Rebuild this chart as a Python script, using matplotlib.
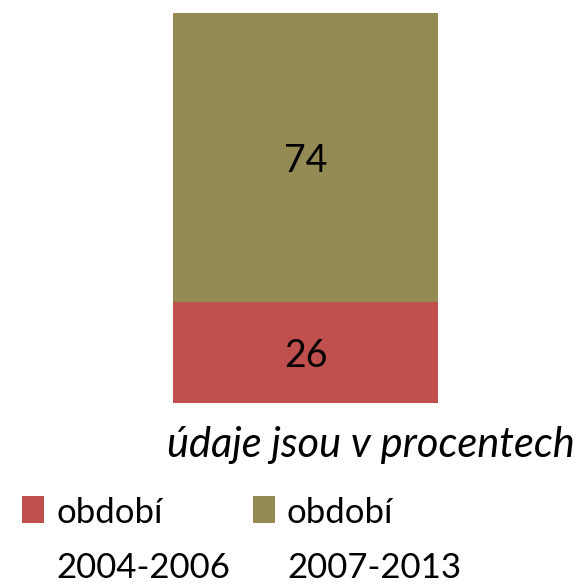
import matplotlib
matplotlib.use("Agg")
import matplotlib.pyplot as plt
from matplotlib.patches import Rectangle

categories = [""]
series_names = ["období\n2004-2006", "období\n2007-2013"]
values_2004_2006 = [26]
values_2007_2013 = [74]
colors = ["#C0504D", "#948A54"]
note = "údaje jsou v procentech"

plt.rcParams['font.family'] = ['Lato', 'DejaVu Sans']

W, H = 581, 586
fig = plt.figure(figsize=(W / 100, H / 100), dpi=100)
ax = fig.add_axes([173 / W, (H - 403) / H, (438 - 173) / W, 390 / H])

x = range(len(categories))
b1 = ax.bar(x, values_2004_2006, width=1.0, color=colors[0])
b2 = ax.bar(x, values_2007_2013, width=1.0, bottom=values_2004_2006, color=colors[1])
for bars, vals, bottoms in ((b1, values_2004_2006, [0] * len(values_2004_2006)),
                            (b2, values_2007_2013, values_2004_2006)):
    for rect, v, b in zip(bars, vals, bottoms):
        ax.text(rect.get_x() + rect.get_width() / 2, b + v / 2, f"{v}",
                ha="center", va="center_baseline", fontsize=27, color="black")

ax.set_xlim(-0.5, 0.5)
ax.set_ylim(0, 100)
ax.axis("off")

fig.text(575 / W, 1 - 445 / H, note, ha="right", va="center",
         fontsize=30, style="italic")

# legend (manual, handle aligned with first text line)
legend_x = [22, 253]
for lx, c, name in zip(legend_x, colors, series_names):
    fig.patches.append(Rectangle((lx / W, 1 - 523 / H), 22 / W, 27 / H,
                                 transform=fig.transFigure, facecolor=c,
                                 edgecolor="none"))
    fig.text((lx + 34) / W, 1 - 497 / H, name, ha="left", va="top",
             fontsize=25, linespacing=1.9)

fig.savefig("out.png", dpi=100)
